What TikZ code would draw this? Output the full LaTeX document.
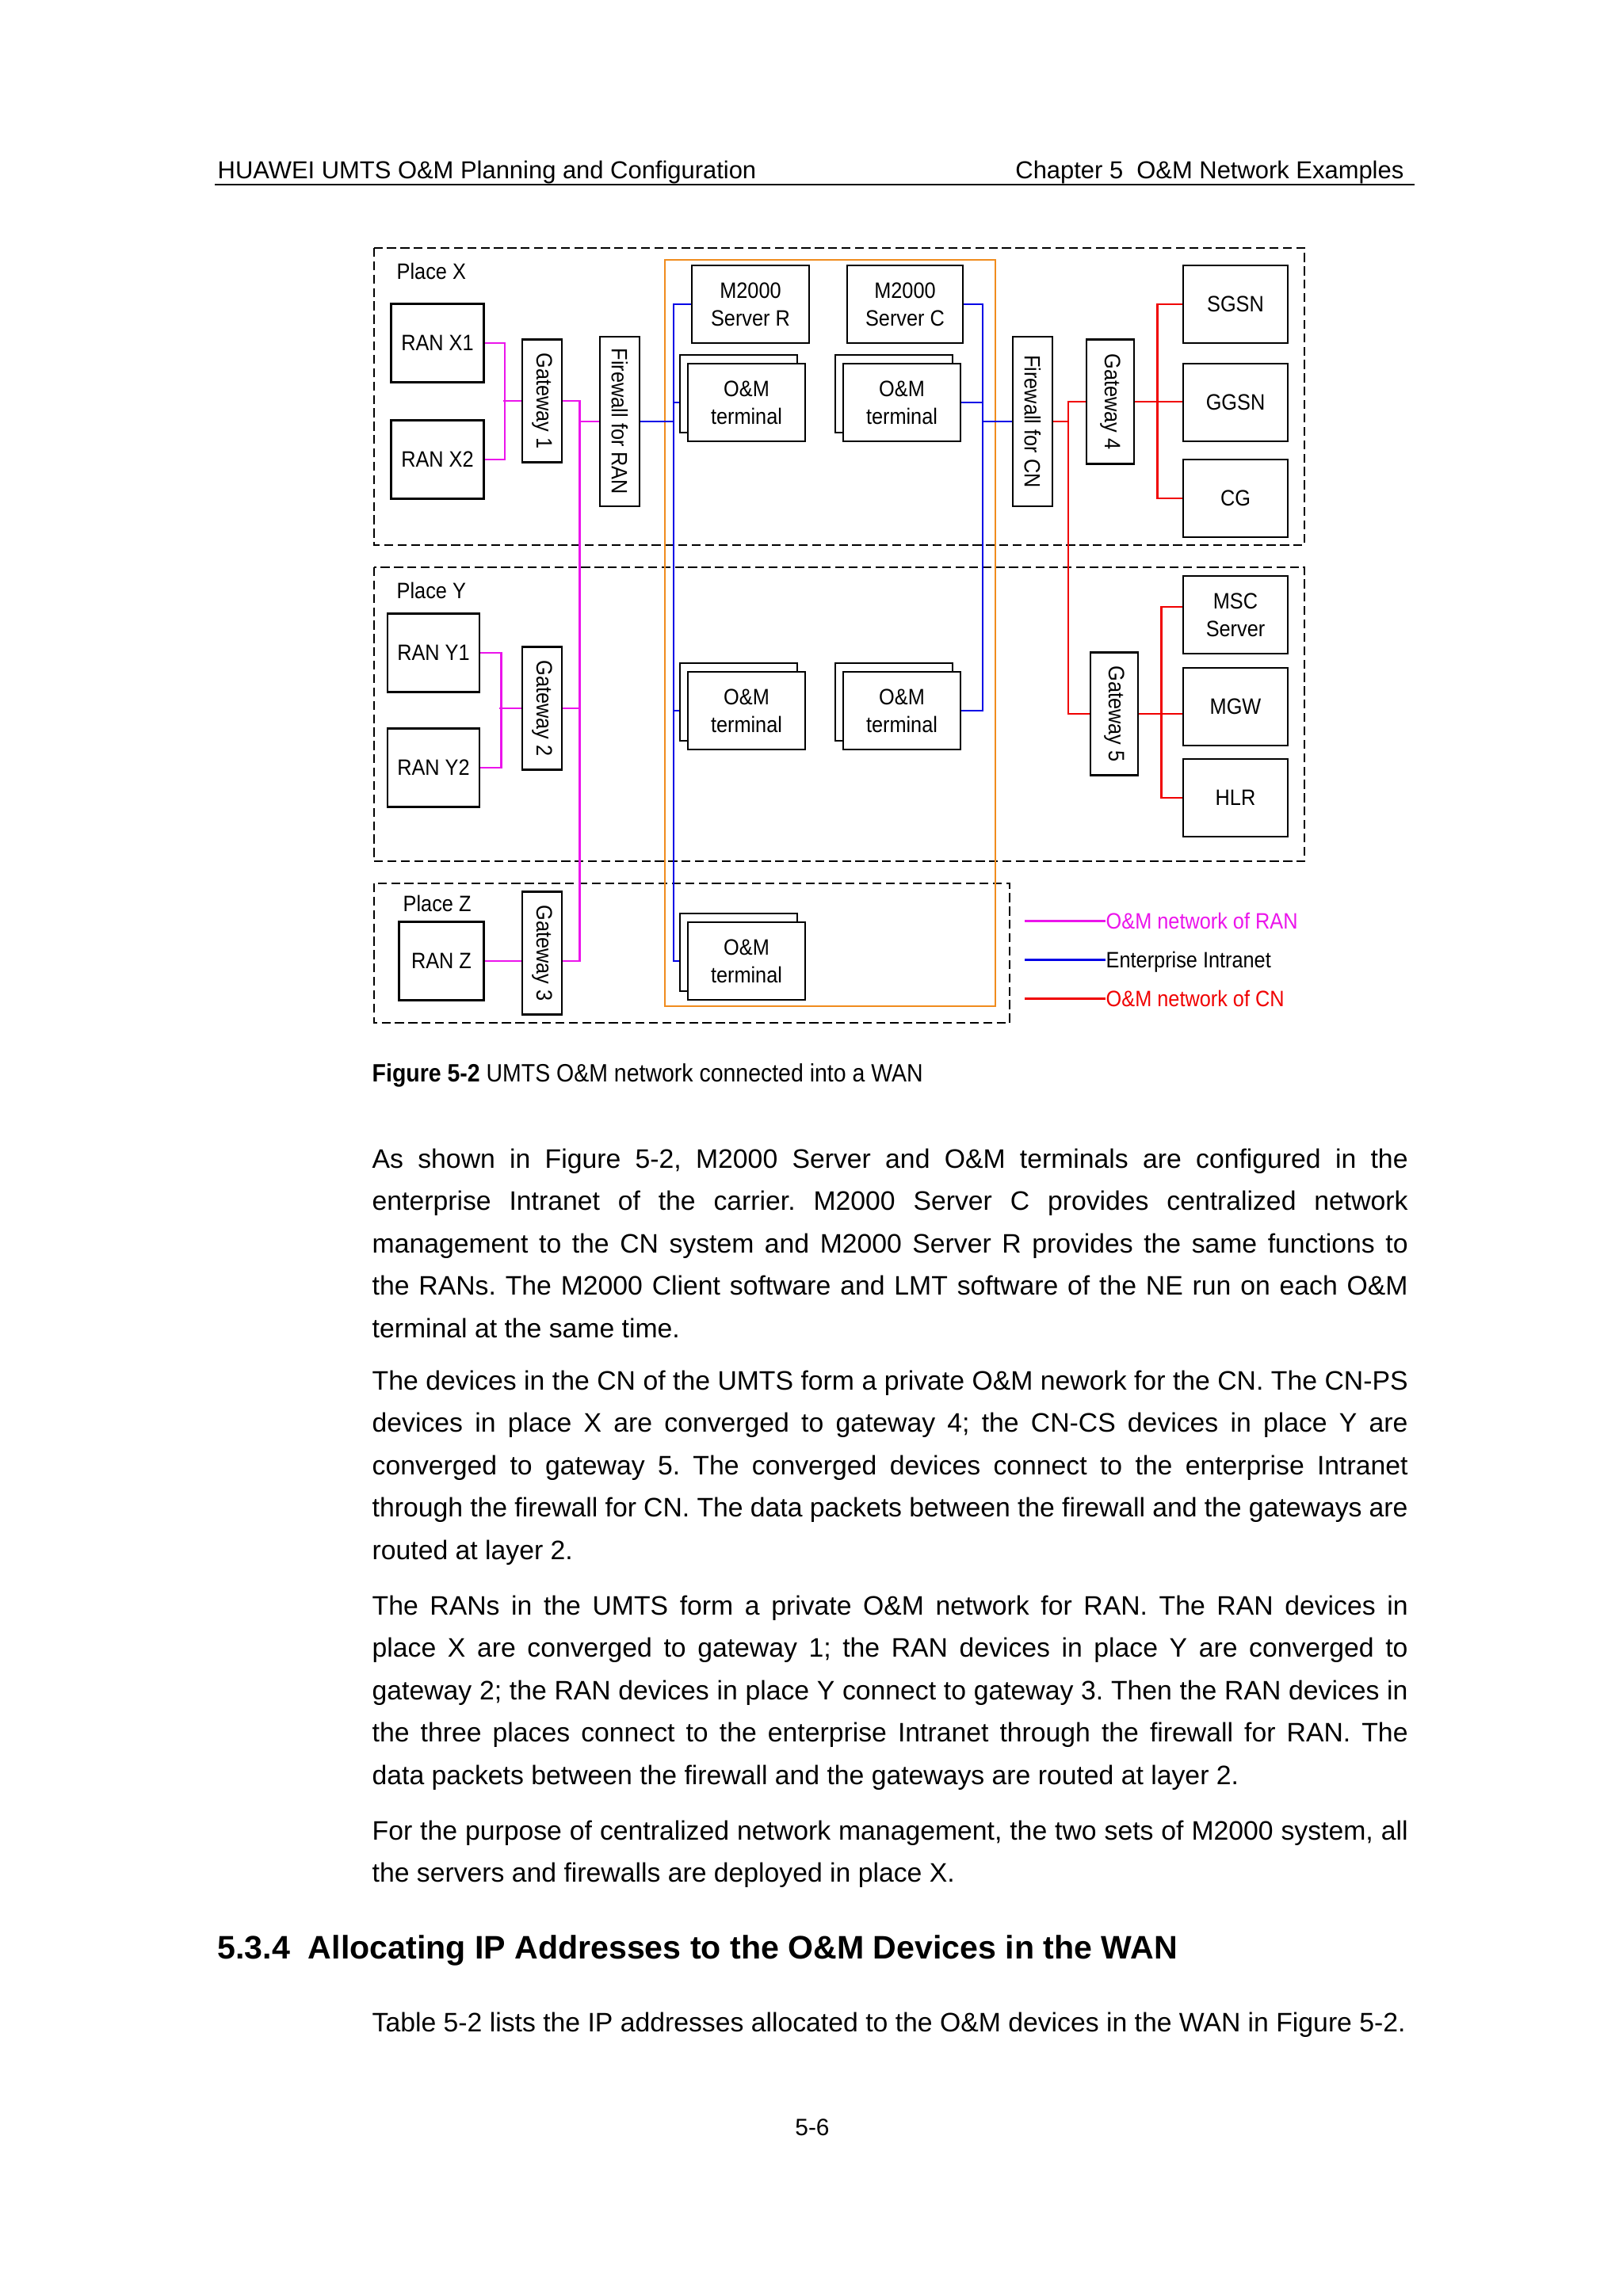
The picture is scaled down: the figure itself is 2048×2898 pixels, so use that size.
\documentclass[tikz,border=0pt]{standalone}
\usepackage{fontspec}
\setmainfont{Liberation Sans}
\newfontfamily\diagfont[FakeStretch=0.9]{Liberation Sans}
\usetikzlibrary{shadows}
\definecolor{ranmag}{RGB}{235,20,235}
\definecolor{intblue}{RGB}{0,0,230}
\definecolor{cnred}{RGB}{240,0,0}
\definecolor{lanorange}{RGB}{240,140,30}
\newcommand\diagtext{\diagfont\fontsize{8}{10}\selectfont}
\frenchspacing

\begin{document}
\begin{tikzpicture}[x=0.1mm, y=-0.1mm,
  box/.style={draw, line width=0.75pt, fill=white, inner sep=0pt, align=center, font=\diagtext},
  ranbox/.style={box, minimum width=11.7mm, minimum height=9.9mm},
  cnbox/.style={box, minimum width=13.2mm, minimum height=9.8mm},
  srvbox/.style={box, minimum width=14.6mm, minimum height=9.8mm},
  termbox/.style={box, minimum width=14.8mm, minimum height=9.8mm,
    copy shadow={shadow xshift=-1mm, shadow yshift=1.1mm}},
  gatebox/.style={box, minimum width=5mm, minimum height=15.5mm},
  wallbox/.style={box, minimum width=5mm, minimum height=21.4mm},
  placebox/.style={draw, line width=0.75pt, dash pattern=on 3.2pt off 1.6pt},
  placelabel/.style={anchor=base west, inner sep=0pt, font=\diagtext},
  ranline/.style={draw=ranmag, line width=0.75pt},
  intline/.style={draw=intblue, line width=0.75pt},
  cnline/.style={draw=cnred, line width=0.75pt},
  bodytext/.style={anchor=base west, inner sep=0pt, text width=130.7mm, align=justify,
    font=\fontsize{9.6}{15.25}\selectfont}]

  \fill[white] (0,0) rectangle (2048,2898);
  \useasboundingbox (0,0) rectangle (2048,2898);

  % page header
  \node[anchor=base west, inner sep=0pt, font=\fontsize{8.8}{10}\selectfont] (hleft) at (274,225)
    {HUAWEI UMTS O\&M Planning and Configuration};
  \node[anchor=base east, inner sep=0pt, font=\fontsize{8.8}{10}\selectfont] (hright) at (1772,225)
    {Chapter 5\ \ O\&M Network Examples};
  \draw[line width=0.8pt] (271,233) -- (1785,233);

  % places and intranet
  \draw[placebox] (472,313) rectangle (1646,688);
  \draw[placebox] (472,716) rectangle (1646,1087);
  \draw[placebox] (472,1115) rectangle (1274,1291);
  \draw[lanorange, line width=0.8pt] (839,328) rectangle (1256,1270);
  \node[placelabel] (plx) at (500,352) {Place X};
  \node[placelabel] (ply) at (500,755) {Place Y};
  \node[placelabel] (plz) at (508,1150) {Place Z};

  \node[ranbox] (ranx1) at (552,433) {RAN X1};
  \node[ranbox] (ranx2) at (552,580) {RAN X2};
  \node[ranbox, minimum width=11.6mm] (rany1) at (547,824) {RAN Y1};
  \node[ranbox, minimum width=11.6mm] (rany2) at (547,969) {RAN Y2};
  \node[ranbox, minimum width=10.7mm] (ranz) at (557,1213) {RAN Z};
  \node[gatebox] (gw1) at (684,506) {\rotatebox{-90}{Gateway 1}};
  \node[gatebox] (gw2) at (684,894) {\rotatebox{-90}{Gateway 2}};
  \node[gatebox] (gw3) at (684,1203) {\rotatebox{-90}{Gateway 3}};
  \node[wallbox] (fwran) at (782,532) {\rotatebox{-90}{Firewall for RAN}};

  \node[srvbox, minimum width=14.8mm] (srvr) at (947,384) {M2000\\Server R};
  \node[srvbox] (srvc) at (1142,384) {M2000\\Server C};
  \node[termbox] (termxr) at (942,508) {O\&M\\terminal};
  \node[termbox] (termxc) at (1138,508) {O\&M\\terminal};
  \node[termbox] (termyr) at (942,897) {O\&M\\terminal};
  \node[termbox] (termyc) at (1138,897) {O\&M\\terminal};
  \node[termbox] (termz) at (942,1213) {O\&M\\terminal};

  \node[wallbox] (fwcn) at (1303,532) {\rotatebox{-90}{Firewall for CN}};
  \node[gatebox, minimum width=6mm, minimum height=15.7mm] (gw4) at (1401,507) {\rotatebox{-90}{Gateway 4}};
  \node[gatebox, minimum width=6mm] (gw5) at (1406,901) {\rotatebox{-90}{Gateway 5}};
  \node[cnbox] (sgsn) at (1559,384) {SGSN};
  \node[cnbox] (ggsn) at (1559,508) {GGSN};
  \node[cnbox] (cg) at (1559,629) {CG};
  \node[cnbox] (msc) at (1559,776) {MSC\\Server};
  \node[cnbox] (mgw) at (1559,892) {MGW};
  \node[cnbox] (hlr) at (1559,1007) {HLR};

  \coordinate (ranbus) at (731.5,0);
  \coordinate (lbus) at (850,0);
  \coordinate (rbus) at (1240,0);
  \coordinate (cnbus) at (1348,0);

  % O&M network of RAN
  \draw[ranline] (ranx1.east) -- ++(25,0) |- (ranx2.east);
  \draw[ranline] (gw1.west) -- ++(-23,0);
  \draw[ranline] (rany1.east) -- ++(26,0) |- (rany2.east);
  \draw[ranline] (gw2.west) -- ++(-28,0);
  \draw[ranline] (ranz.east) -- (ranz.east -| gw3.west);
  \draw[ranline] (gw1.east) -- (gw1.east -| ranbus) |- (gw3.east |- ranz.east);
  \draw[ranline] (gw2.east) -- (gw2.east -| ranbus);
  \draw[ranline] (fwran.west) -- (fwran.west -| ranbus);

  % enterprise intranet
  \draw[intline] (srvr.west) -- (srvr.west -| lbus) |- ([xshift=-1mm]termz.west);
  \draw[intline] (fwran.east) -- (fwran.east -| lbus);
  \draw[intline] ([xshift=-1mm]termxr.west) -- (termxr.west -| lbus);
  \draw[intline] ([xshift=-1mm]termyr.west) -- (termyr.west -| lbus);
  \draw[intline] (srvc.east) -- (srvc.east -| rbus) |- (termyc.east);
  \draw[intline] (termxc.east) -- (termxc.east -| rbus);
  \draw[intline] (fwcn.west) -- (fwcn.west -| rbus);

  % O&M network of CN
  \draw[cnline] (fwcn.east) -- (fwcn.east -| cnbus);
  \draw[cnline] (gw4.west) -- (gw4.west -| cnbus) |- (gw5.west);
  \draw[cnline] (gw4.east) -- (gw4.east -| ggsn.west);
  \draw[cnline] (sgsn.west) -- ++(-31,0) |- (cg.west);
  \draw[cnline] (gw5.east) -- (gw5.east -| mgw.west);
  \draw[cnline] ([yshift=1mm]msc.west) -- ++(-26,0) |- (hlr.west);

  % legend
  \node[placelabel, text=ranmag] (legran) at (1395,1172) {O\&M network of RAN};
  \node[placelabel] (legint) at (1395,1221) {Enterprise Intranet};
  \node[placelabel, text=cnred] (legcn) at (1395,1270) {O\&M network of CN};
  \draw[ranline] (legran.mid west) -- ++(-102,0);
  \draw[intline] (legint.mid west) -- ++(-102,0);
  \draw[cnline] (legcn.mid west) -- ++(-102,0);

  \node[anchor=base west, inner sep=0pt, font=\diagfont\fontsize{9}{11}\selectfont] (caption) at (469,1365)
    {\textbf{Figure 5-2} UMTS O\&M network connected into a WAN};

  % body text
  \node[bodytext] (para1) at (469,1474) {As shown in Figure 5-2, M2000 Server and O\&M terminals are configured in the\linebreak
    enterprise Intranet of the carrier. M2000 Server C provides centralized network\linebreak
    management to the CN system and M2000 Server R provides the same functions to\linebreak
    the RANs. The M2000 Client software and LMT software of the NE run on each O\&M\linebreak
    terminal at the same time.};
  \node[bodytext] (para2) at (469,1754) {The devices in the CN of the UMTS form a private O\&M nework for the CN. The CN-PS\linebreak
    devices in place X are converged to gateway 4; the CN-CS devices in place Y are\linebreak
    converged to gateway 5. The converged devices connect to the enterprise Intranet\linebreak
    through the firewall for CN. The data packets between the firewall and the gateways are\linebreak
    routed at layer 2.};
  \node[bodytext] (para3) at (469,2038) {The RANs in the UMTS form a private O\&M network for RAN. The RAN devices in\linebreak
    place X are converged to gateway 1; the RAN devices in place Y are converged to\linebreak
    gateway 2; the RAN devices in place Y connect to gateway 3. Then the RAN devices in\linebreak
    the three places connect to the enterprise Intranet through the firewall for RAN. The\linebreak
    data packets between the firewall and the gateways are routed at layer 2.};
  \node[bodytext] (para4) at (469,2322) {For the purpose of centralized network management, the two sets of M2000 system, all\linebreak
    the servers and firewalls are deployed in place X.};

  \node[anchor=base west, inner sep=0pt, font=\bfseries\fontsize{11.7}{14}\selectfont] (sect) at (274,2472)
    {5.3.4\ \ Allocating IP Addresses to the O\&M Devices in the WAN};
  \node[anchor=base west, inner sep=0pt, font=\fontsize{9.6}{15.25}\selectfont] (tabref) at (469,2564)
    {Table 5-2 lists the IP addresses allocated to the O\&M devices in the WAN in Figure 5-2.};
  \node[anchor=base, inner sep=0pt, font=\fontsize{8.5}{10}\selectfont] (pageno) at (1025,2695) {5-6};
\end{tikzpicture}
\end{document}
